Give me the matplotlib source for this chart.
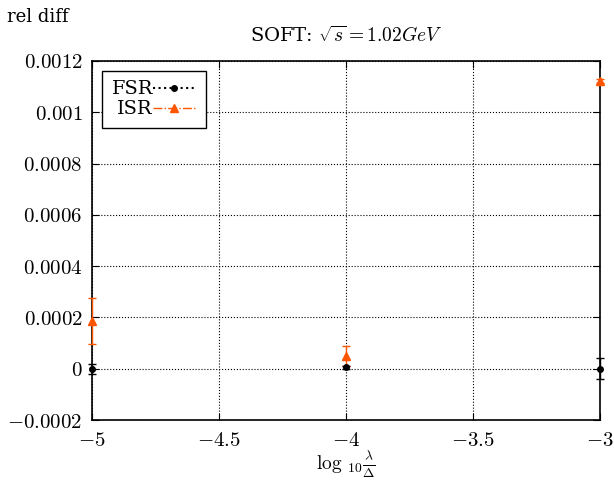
import matplotlib
matplotlib.use("Agg")
import matplotlib.pyplot as plt
from matplotlib.lines import Line2D

plt.rcParams["font.family"] = "DejaVu Serif"
plt.rcParams["mathtext.fontset"] = "cm"

# data
log_lambda = [-5, -4, -3]
fsr_val = [0.0, 0.000005, 0.0]
fsr_err = [0.00002, 0.000005, 0.00004]
isr_val = [0.000187, 0.00005, 0.001122]
isr_err = [0.00009, 0.00004, 0.000008]
xticks = [-5, -4.5, -4, -3.5, -3]
yticks = [-0.0002, 0, 0.0002, 0.0004, 0.0006, 0.0008, 0.001, 0.0012]
ytick_labels = ["-0.0002", "0", "0.0002", "0.0004", "0.0006",
                "0.0008", "0.001", "0.0012"]

fsr_color = "black"
isr_color = "#ff5500"

fig = plt.figure(figsize=(6.14, 4.8), dpi=100)
ax = fig.add_axes([0.150, 0.125, 0.827, 0.748])

fsr = ax.errorbar(log_lambda, fsr_val, yerr=fsr_err, fmt="o", color=fsr_color,
                  ms=4, capsize=3, elinewidth=1, zorder=4)
isr = ax.errorbar(log_lambda, isr_val, yerr=isr_err, fmt="^", color=isr_color,
                  ms=6, capsize=3, elinewidth=1, zorder=3)
for eb in (fsr, isr):
    for art in eb.lines[0:1] + eb.lines[1] + eb.lines[2]:
        art.set_clip_on(False)

ax.set_xlim(-5, -3)
ax.set_ylim(-0.0002, 0.0012)
ax.set_xticks(xticks)
ax.set_yticks(yticks)
ax.set_xticklabels(["$%g$" % t for t in xticks])
ax.set_yticklabels(["$%s$" % t for t in ytick_labels])
ax.tick_params(direction="in", labelsize=15, length=5, top=True, right=True,
               pad=7)
ax.tick_params(axis="x", pad=8)
ax.grid(True, linestyle=":", color="black", linewidth=0.8)
for s in ax.spines.values():
    s.set_linewidth(1.2)

ax.set_title(r"SOFT: $\sqrt{s}=1.02 GeV$", fontsize=14, pad=14)
ax.set_xlabel(r"$\log\,{}_{10}\frac{\lambda}{\Delta}$", fontsize=14,
              labelpad=0)
fig.text(0.012, 0.955, "rel diff", fontsize=13)

handles = [
    Line2D([], [], color=fsr_color, linestyle=":", marker="o", ms=4, lw=1.5),
    Line2D([], [], color=isr_color, linestyle="-.", marker="^", ms=6, lw=1),
]
leg = ax.legend(handles, ["FSR", "ISR"], loc="upper left", markerfirst=False,
                fancybox=False, edgecolor="black", fontsize=14,
                handlelength=2.2, handletextpad=0.0, borderpad=0.5,
                labelspacing=0.1, borderaxespad=0.5)
leg.get_frame().set_linewidth(1.0)
leg.get_frame().set_alpha(1)

fig.savefig("out.png", dpi=100)
